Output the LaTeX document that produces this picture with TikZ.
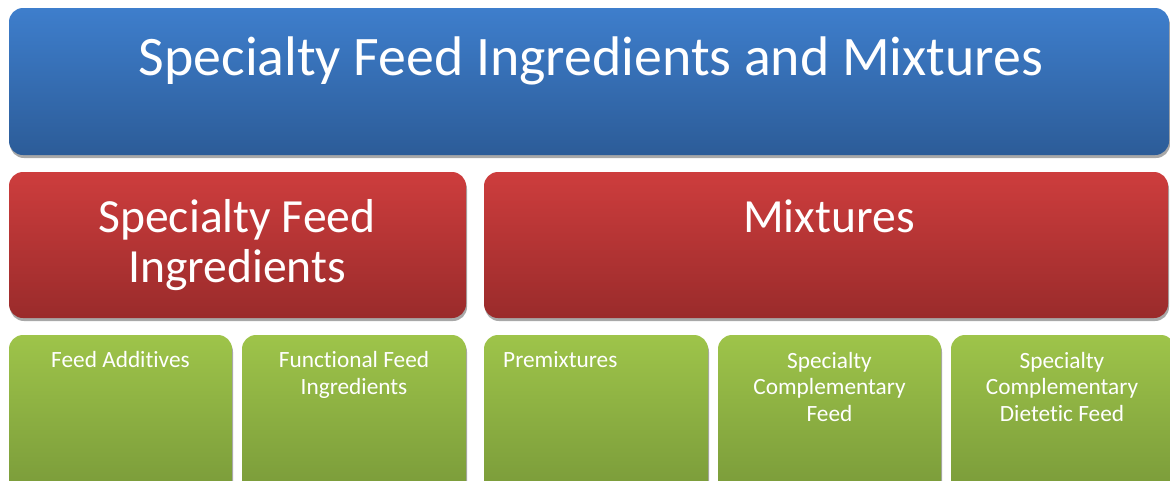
\documentclass[tikz,border=0pt]{standalone}
\usepackage{fontspec}
\setmainfont[Ligatures=NoCommon]{Carlito}
\usetikzlibrary{shadows}
\definecolor{bluetop}{RGB}{62,126,204}
\definecolor{bluebot}{RGB}{44,92,152}
\definecolor{redtop}{RGB}{205,61,61}
\definecolor{redbot}{RGB}{154,43,43}
\definecolor{greentop}{RGB}{158,196,74}
\definecolor{greenbot}{RGB}{116,148,55}
\definecolor{shadowgray}{RGB}{168,168,168}
\tikzset{
  box/.style={rounded corners=14pt, draw=none,
    drop shadow={shadow xshift=1pt, shadow yshift=-3pt, fill=shadowgray, opacity=1}},
  bluebox/.style={box, top color=bluetop, bottom color=bluebot},
  redbox/.style={box, top color=redtop, bottom color=redbot},
  greenbox/.style={box, top color=greentop, bottom color=greenbot},
  txt/.style={text=white, inner sep=0pt, align=center},
  titletxt/.style={txt, font=\fontsize{55.8}{60}\selectfont},
  midtxt/.style={txt, font=\fontsize{47.6}{50}\selectfont},
  smalltxt/.style={txt, font=\fontsize{23.3}{26.3}\selectfont},
}
\begin{document}
\begin{tikzpicture}[x=1pt,y=-1pt]
\useasboundingbox (0,0) rectangle (1170,480);
\clip (0,0) rectangle (1170,480);
\fill[white] (0,0) rectangle (1170,480);
% boxes
\path[bluebox] (9,8) rectangle (1169,155);
\path[redbox] (9,172) rectangle (466,318);
\path[redbox] (484,172) rectangle (1168,318);
\path[greenbox] (9,335) rectangle (232,520);
\path[greenbox] (242,335) rectangle (466,520);
\path[greenbox] (484,335) rectangle (708,520);
\path[greenbox] (718,335) rectangle (941,520);
\path[greenbox] (951,335) rectangle (1175,520);
% texts (anchor=base is the baseline of the last line)
\node[titletxt, anchor=base] (title) at (591,75) {Specialty Feed Ingredients and Mixtures};
\node[midtxt, anchor=base] (sfi) at (237,282) {Specialty Feed\\Ingredients};
\node[midtxt, anchor=base] (mix) at (829,232) {Mixtures};
\node[smalltxt, anchor=base] (fa) at (120.5,367) {Feed Additives};
\node[smalltxt, anchor=base] (ffi) at (354,394) {Functional Feed\\Ingredients};
\node[smalltxt, anchor=base west] (pre) at (503,367) {Premixtures};
\node[smalltxt, anchor=base] (scf) at (829.5,421) {Specialty\\Complementary\\Feed};
\node[smalltxt, anchor=base] (scdf) at (1062,421) {Specialty\\Complementary\\Dietetic Feed};
\end{tikzpicture}
\end{document}
